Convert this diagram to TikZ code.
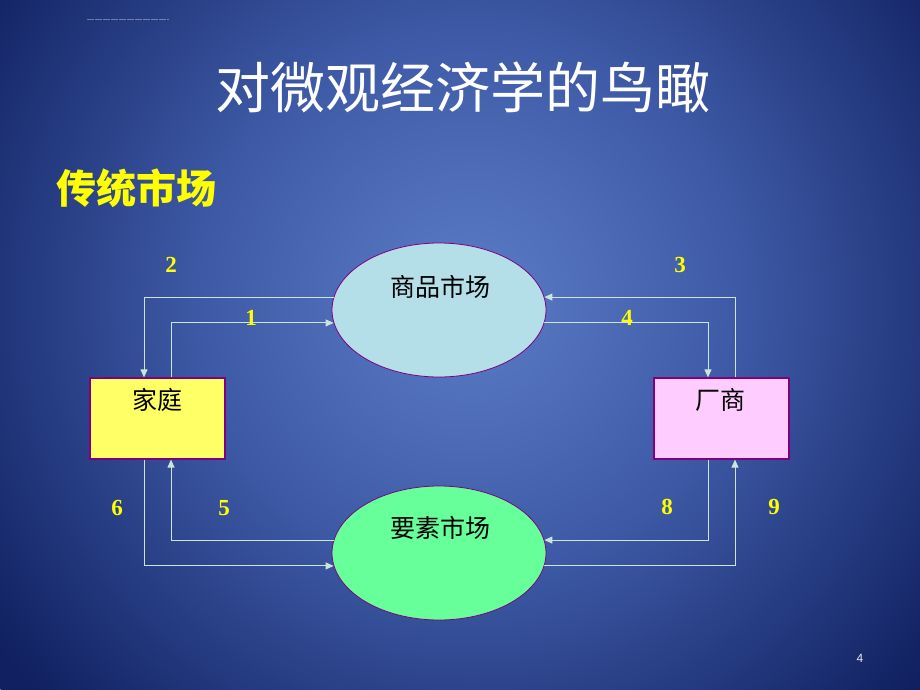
\documentclass[tikz,border=0pt]{standalone}
\usepackage{fontspec}
\usepackage{tikz}
\usetikzlibrary{arrows.meta}
\usetikzlibrary{shapes.geometric}

\newfontfamily\cjk{Noto Sans CJK SC}
\newfontfamily\numfont{Liberation Serif}
\newfontfamily\pagefont{Liberation Sans}

\definecolor{bgin}{RGB}{92,124,198}
\definecolor{bgmid}{RGB}{62,90,166}
\definecolor{bgout}{RGB}{16,32,96}
\definecolor{flowgray}{RGB}{205,228,218}
\definecolor{edgepurple}{RGB}{128,0,128}
\definecolor{goodsfill}{RGB}{180,222,232}
\definecolor{factorfill}{RGB}{102,255,153}
\definecolor{homefill}{RGB}{255,255,102}
\definecolor{firmfill}{RGB}{255,204,255}
\definecolor{numyellow}{RGB}{255,255,0}

\pgfdeclareradialshading{slideglow}{\pgfpoint{0bp}{0bp}}{%
  color(0bp)=(bgin); color(11bp)=(bgmid); color(24bp)=(bgout); color(50bp)=(bgout)}

\begin{document}
\begin{tikzpicture}[x=1pt, y=-1pt,
  flow/.style={draw=flowgray, line width=1pt, -{Triangle[length=8pt,width=7pt]}},
  market/.style={ellipse, draw=edgepurple, line width=0.8pt, minimum width=214pt, minimum height=134pt, inner sep=0pt},
  agent/.style={rectangle, draw=edgepurple, line width=1.2pt, minimum width=135pt, minimum height=81pt, inner sep=0pt},
  tag/.style={font=\cjk\fontsize{25}{30}\selectfont, text=black},
  num/.style={font=\numfont\bfseries\fontsize{23}{26}\selectfont, text=numyellow}]

\useasboundingbox (0,0) rectangle (920,690);
\begin{scope}
\clip (0,0) rectangle (920,690);
\shade[shading=slideglow] (470,300) circle (610);
\end{scope}
\draw[white, opacity=.35, line width=.6pt, dash pattern=on 7pt off 1pt] (87,19) -- (169,19);

\node[font=\cjk\fontsize{55}{60}\selectfont, text=white] (title) at (463,87) {对微观经济学的鸟瞰};
\node[font=\cjk\bfseries\fontsize{40}{46}\selectfont, text=numyellow] (sub) at (136,188) {传统市场};

\node[market, fill=goodsfill] (goods) at (439,310) {};
\node[market, fill=factorfill] (factors) at (439,553) {};
\node[agent, fill=homefill] (home) at (157.5,418.5) {};
\node[agent, fill=firmfill] (firm) at (721.5,418.5) {};

\node[tag] (goodstxt) at (440,287) {商品市场};
\node[tag] (factorstxt) at (440,528) {要素市场};
\node[tag] (hometxt) at (157,400) {家庭};
\node[tag] (firmtxt) at (720,400) {厂商};

\draw[flow] ([xshift=13.5pt]home.north) |- (goods.187);
\draw[flow] (goods.173) -| ([xshift=-13.5pt]home.north);
\draw[flow] ([xshift=13.5pt]firm.north) |- (goods.7);
\draw[flow] (goods.353) -| ([xshift=-13.5pt]firm.north);
\draw[flow] (factors.173) -| ([xshift=13.5pt]home.south);
\draw[flow] ([xshift=-13.5pt]home.south) |- (factors.187);
\draw[flow] ([xshift=-13.5pt]firm.south) |- (factors.7);
\draw[flow] (factors.353) -| ([xshift=13.5pt]firm.south);

\foreach \n/\x/\y in {1/251/318, 2/171/265, 3/680/265, 4/627/318, 5/224/508, 6/117/508, 8/667/507, 9/774/507}
  \node[num] (n\n) at (\x,\y) {\n};

\node[font=\pagefont\fontsize{12}{14}\selectfont, text=white!85!bgin] (pageno) at (860,658) {4};
\end{tikzpicture}
\end{document}
